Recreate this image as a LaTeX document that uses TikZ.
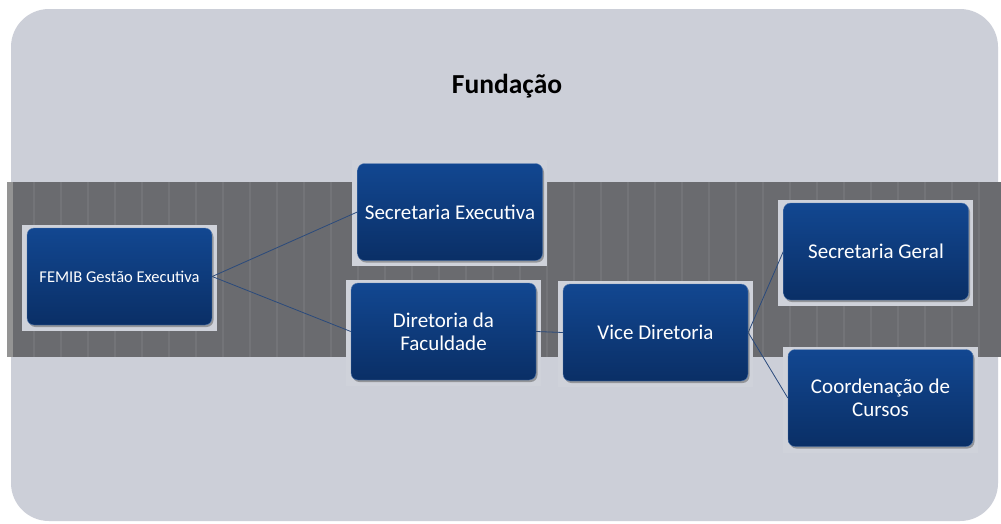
\documentclass[tikz,border=0pt]{standalone}
\usepackage{fontspec}
\setmainfont{Carlito}
\usetikzlibrary{shadows}
\definecolor{bgc}{HTML}{CCCFD8}
\definecolor{backc}{HTML}{CFD2DA}
\definecolor{bandc}{HTML}{6A6B6F}
\definecolor{stripec}{HTML}{737478}
\definecolor{boxtop}{HTML}{124791}
\definecolor{boxbot}{HTML}{0A2F66}
\definecolor{linec}{HTML}{2A4A7C}
\pgfdeclarelayer{bg}
\pgfdeclarelayer{lines}
\pgfsetlayers{bg,lines,main}
\tikzset{
  orgbox/.style={rounded corners=7pt, top color=boxtop, bottom color=boxbot, draw=boxtop!70!white, line width=0.4pt,
    minimum width=185pt, minimum height=97pt, text=white, align=center, inner sep=2pt,
    font=\fontsize{21}{23}\selectfont,
    drop shadow={shadow xshift=1.5pt, shadow yshift=-2pt, opacity=0.45, fill=black!70}},
  backbox/.style={fill=backc, draw=none, minimum width=195pt, minimum height=106pt, inner sep=0pt},
  conn/.style={draw=linec, line width=0.8pt}
}
\begin{document}
\begin{tikzpicture}[x=1pt,y=-1pt]
\useasboundingbox (0,0) rectangle (1001,523);
\begin{pgfonlayer}{bg}
\fill[white] (0,0) rectangle (1001,523);
\fill[bgc, rounded corners=38pt] (11,9) rectangle (998,521);
% band
\fill[bandc] (7,182) rectangle (1001,357);
\fill[black!42] (7,182) rectangle (13,357);
\foreach \x in {34,61,...,1000} { \draw[stripec, line width=1.2pt] (\x,182) -- (\x,357); }
% backing frames
\node[backbox] (bfemib) at (119.5,277.5) {};
\node[backbox] (bsecex) at (449.5,213) {};
\node[backbox] (bdir) at (443.5,332.5) {};
\node[backbox] (bvice) at (655.5,333.5) {};
\node[backbox] (bsecg) at (875.5,253) {};
\node[backbox] (bcoord) at (880.5,399.5) {};
\end{pgfonlayer}
\node[font=\bfseries\fontsize{27.5}{30}\selectfont, text=black] (title) at (507,86) {Fundação};
% boxes
\node[orgbox, font=\fontsize{16.5}{19}\selectfont] (femib) at (119.5,276.5) {FEMIB Gestão Executiva};
\node[orgbox] (secex) at (450,212) {Secretaria Executiva};
\node[orgbox] (dir) at (443.5,331.5) {Diretoria da\\Faculdade};
\node[orgbox] (vice) at (655.5,332.5) {Vice Diretoria};
\node[orgbox] (secg) at (876,251.5) {Secretaria Geral};
\node[orgbox] (coord) at (880.5,398) {Coordenação de\\Cursos};
% connectors
\begin{pgfonlayer}{lines}
\draw[conn] (femib.east) -- (secex.west);
\draw[conn] (femib.east) -- (dir.west);
\draw[conn] (dir.east) -- (vice.west);
\draw[conn] (vice.east) -- (secg.west);
\draw[conn] (vice.east) -- (coord.west);
\end{pgfonlayer}
\end{tikzpicture}
\end{document}
